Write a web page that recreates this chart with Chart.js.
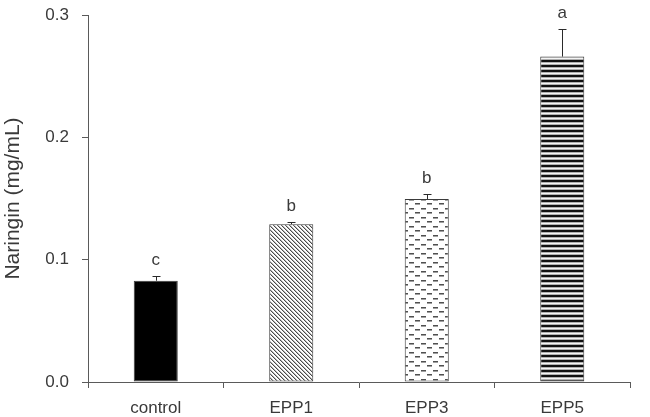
<!DOCTYPE html>
<html>
<head>
<meta charset="utf-8">
<script src="https://cdn.jsdelivr.net/npm/chart.js@4/dist/chart.umd.min.js"></script>
<style>
  html, body { margin: 0; padding: 0; background: #fff; }
  #wrap { width: 650px; height: 417px; }
</style>
</head>
<body>
<div id="wrap"><canvas id="c" width="650" height="417"></canvas></div>
<script>
// ---- data ----
const categories = ['control', 'EPP1', 'EPP3', 'EPP5'];
const naringin   = [0.0828, 0.129, 0.1496, 0.266];
const errorsUp   = [0.0041, 0.0017, 0.0041, 0.0227];
const sigLetters = ['c', 'b', 'b', 'a'];
const yTickValues = [0.0, 0.1, 0.2, 0.3];

const FONT = "'Liberation Sans', Arial, Helvetica, sans-serif";
const AXIS_COLOR = '#5a5a5a';
const TEXT_COLOR = '#3a3a3a';

function makePattern(w, h, painter) {
  const cv = document.createElement('canvas');
  cv.width = w; cv.height = h;
  const g = cv.getContext('2d');
  g.fillStyle = '#ffffff';
  g.fillRect(0, 0, w, h);
  painter(g, w, h);
  return document.getElementById('c').getContext('2d').createPattern(cv, 'repeat');
}

// EPP1: diagonal "\" hatch
const hatchPattern = makePattern(4, 4, (g, w, h) => {
  for (let y = 0; y < h; y++) {
    for (let x = 0; x < w; x++) {
      const m = ((x - y) % 4 + 4) % 4;
      if (m === 0) { g.fillStyle = '#4a4a4a'; g.fillRect(x, y, 1, 1); }
      else if (m === 1) { g.fillStyle = '#b8b8b8'; g.fillRect(x, y, 1, 1); }
    }
  }
});

// EPP3: staggered small dashes
const dashPattern = makePattern(12, 9, (g) => {
  g.fillStyle = '#505050';
  g.fillRect(1, 1, 5, 1);
  g.fillRect(7, 5, 5, 1);
  g.fillStyle = '#a0a0a0';
  g.fillRect(1, 2, 5, 1);
  g.fillRect(7, 6, 5, 1);
});

// EPP5: horizontal stripes
const stripePattern = makePattern(4, 5, (g) => {
  g.fillStyle = '#111111'; g.fillRect(0, 0, 4, 2);
  g.fillStyle = '#b0b0b0'; g.fillRect(0, 2, 4, 1);
  g.fillStyle = '#f4f4f4'; g.fillRect(0, 3, 4, 1);
  g.fillStyle = '#b0b0b0'; g.fillRect(0, 4, 4, 1);
});

const fills = ['#000000', hatchPattern, dashPattern, stripePattern];

const errorAndLetters = {
  id: 'errorAndLetters',
  afterDatasetsDraw(chart) {
    const ctx = chart.ctx;
    const meta = chart.getDatasetMeta(0);
    const ys = chart.scales.y;
    ctx.save();
    ctx.strokeStyle = '#2a2a2a';
    ctx.lineWidth = 1;
    meta.data.forEach((bar, i) => {
      const x = Math.round(bar.x) + 0.5;
      const yTop = ys.getPixelForValue(naringin[i]);
      const yErr = Math.round(ys.getPixelForValue(naringin[i] + errorsUp[i])) + 0.5;
      ctx.beginPath();
      ctx.moveTo(x, yTop);
      ctx.lineTo(x, yErr);
      ctx.moveTo(x - 4, yErr);
      ctx.lineTo(x + 4, yErr);
      ctx.stroke();
      ctx.fillStyle = TEXT_COLOR;
      ctx.font = '17px ' + FONT;
      ctx.textAlign = 'center';
      ctx.textBaseline = 'middle';
      ctx.fillText(sigLetters[i], bar.x, yErr - 16);
    });
    ctx.restore();
  }
};

new Chart(document.getElementById('c'), {
  type: 'bar',
  data: {
    labels: categories,
    datasets: [{
      data: naringin,
      backgroundColor: fills,
      borderColor: '#3a3a3a',
      borderWidth: 1,
      borderSkipped: false,
      categoryPercentage: 1.0,
      barPercentage: 0.325
    }]
  },
  options: {
    responsive: false,
    animation: false,
    events: [],
    layout: { padding: { top: 15, right: 20, bottom: 0, left: 0 } },
    plugins: { legend: { display: false }, tooltip: { enabled: false }, title: { display: false } },
    scales: {
      x: {
        type: 'category',
        offset: true,
        grid: { display: true, drawOnChartArea: false, offset: true, tickLength: 6, color: AXIS_COLOR },
        border: { display: true, color: AXIS_COLOR, width: 1 },
        ticks: { color: TEXT_COLOR, font: { family: FONT, size: 17 }, padding: 10, maxRotation: 0 },
        afterFit(scale) { scale.height = 35; scale.paddingLeft = 0; scale.paddingRight = 0; }
      },
      y: {
        min: 0,
        max: 0.3,
        grid: { display: true, drawOnChartArea: false, tickLength: 6, color: AXIS_COLOR },
        border: { display: true, color: AXIS_COLOR, width: 1 },
        ticks: {
          color: TEXT_COLOR,
          font: { family: FONT, size: 17 },
          padding: 13,
          stepSize: 0.1,
          callback: (v) => {
            const hit = yTickValues.find(t => Math.abs(t - v) < 1e-9);
            return hit === undefined ? null : hit.toFixed(1);
          }
        },
        title: {
          display: true,
          text: 'Naringin (mg/mL)',
          color: TEXT_COLOR,
          font: { family: FONT, size: 21 },
          padding: { top: 1, bottom: 0 }
        },
        afterFit(scale) { scale.width = 88; scale.paddingTop = 0; scale.paddingBottom = 0; }
      }
    }
  },
  plugins: [errorAndLetters]
});
</script>
</body>
</html>
